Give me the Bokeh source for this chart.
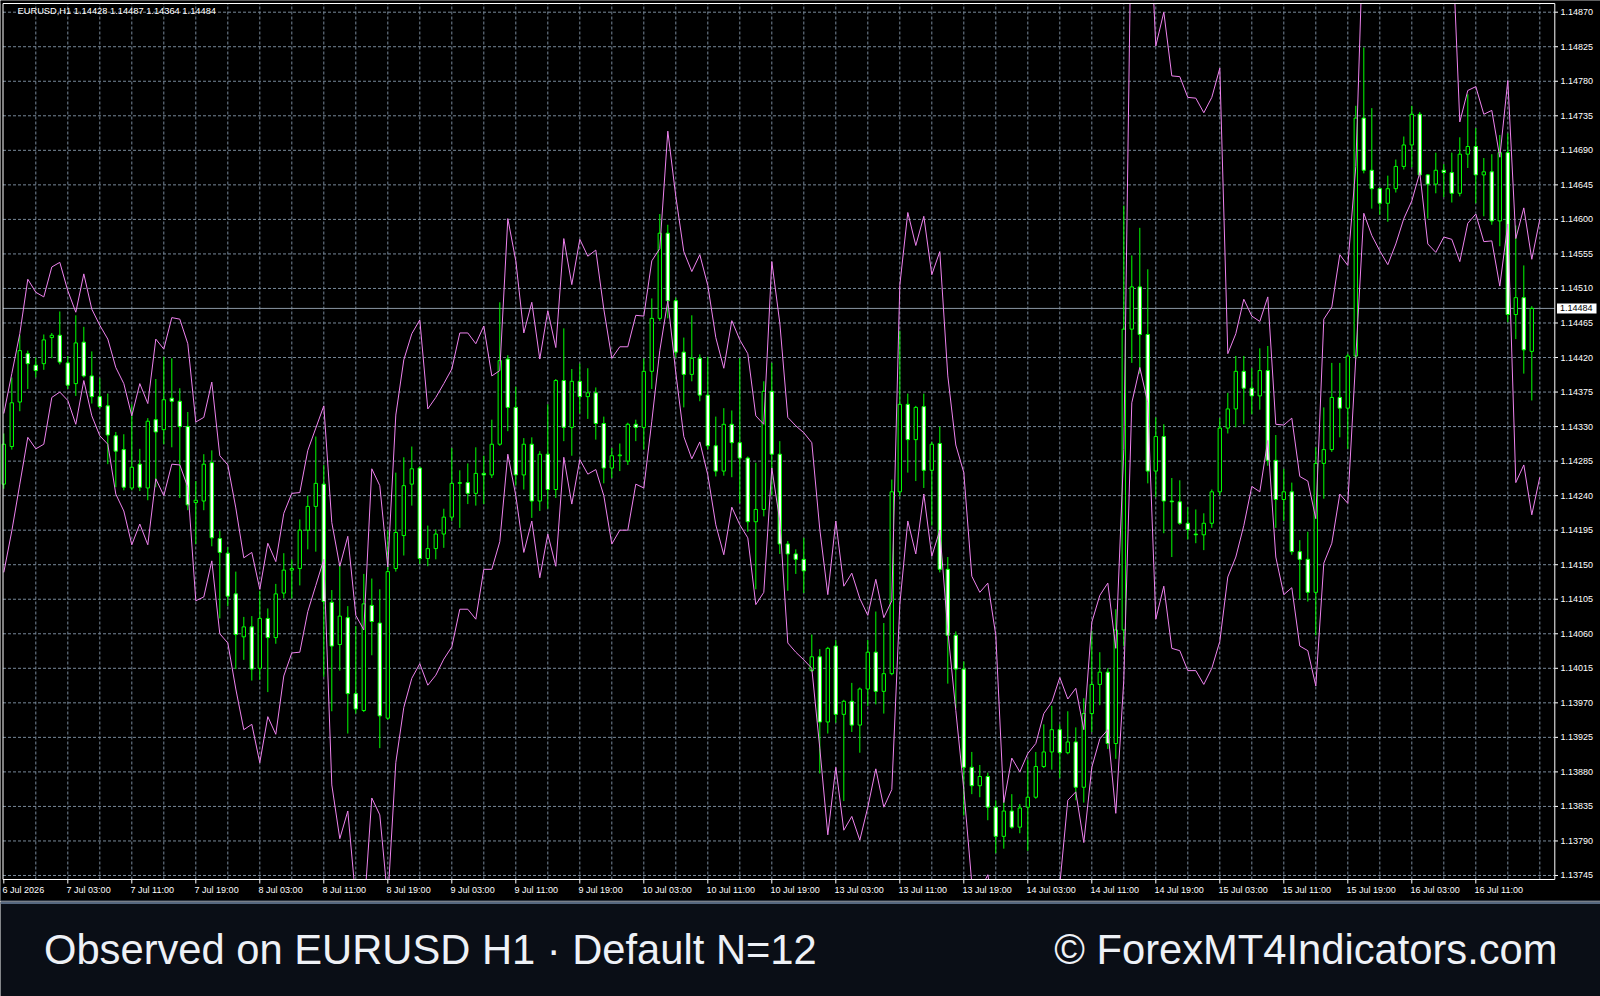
from bokeh.plotting import figure
from bokeh.models import Range1d, ColumnDataSource
from bokeh.layouts import column
from bokeh.embed import file_html
from bokeh.resources import INLINE
from bokeh.core.properties import value

SYMBOL = "EURUSD"
TIMEFRAME = "H1"
FOOTER_LEFT = "Observed on EURUSD H1 \u00b7 Default N=12"
FOOTER_RIGHT = "\u00a9 ForexMT4Indicators.com"

open_ = [
1.14255,1.14304,1.14362,1.14425,1.14410,1.14412,1.14446,1.14449,1.14413,1.14386,
1.14440,1.14396,1.14369,1.14357,1.14318,1.14300,1.14250,1.14281,1.14250,1.14339,
1.14326,1.14367,1.14363,1.14330,1.14231,1.14233,1.14283,1.14184,1.14165,1.14112,
1.14056,1.14069,1.14015,1.14080,1.14055,1.14113,1.14143,1.14145,1.14195,1.14226,
1.14255,1.14101,1.14046,1.14081,1.13982,1.13960,1.14097,1.14074,1.13950,1.14145,
1.14188,1.14255,1.14276,1.14158,1.14171,1.14190,1.14212,1.14256,1.14257,1.14243,
1.14269,1.14267,1.14307,1.14418,1.14355,1.14267,1.14307,1.14233,1.14294,1.14248,
1.14390,1.14329,1.14389,1.14369,1.14374,1.14334,1.14276,1.14292,1.14285,1.14333,
1.14329,1.14402,1.14471,1.14582,1.14494,1.14427,1.14398,1.14419,1.14371,1.14305,
1.14272,1.14333,1.14309,1.14289,1.14206,1.14222,1.14376,1.14294,1.14177,1.14164,
1.14157,1.14012,1.14030,1.13945,1.14044,1.13955,1.13972,1.13941,1.13988,1.14036,
1.13985,1.14008,1.14245,1.14359,1.14313,1.14356,1.14273,1.14308,1.14144,1.14058,
1.14014,1.13886,1.13862,1.13874,1.13834,1.13796,1.13829,1.13808,1.13834,1.13847,
1.13887,1.13906,1.13935,1.13905,1.13919,1.13860,1.13956,1.13994,1.14010,1.13917,
1.14065,1.14457,1.14512,1.14450,1.14272,1.14317,1.14233,1.14232,1.14204,1.14190,
1.14189,1.14204,1.14245,1.14328,1.14353,1.14402,1.14380,1.14370,1.14403,1.14286,
1.14235,1.14245,1.14167,1.14157,1.14114,1.14282,1.14300,1.14368,1.14354,1.14422,
1.14732,1.14664,1.14640,1.14621,1.14640,1.14669,1.14697,1.14737,1.14658,1.14646,
1.14664,1.14661,1.14634,1.14685,1.14695,1.14658,1.14662,1.14598,1.14687,1.14476,
1.14498,1.14428]

high = [
1.14321,1.14394,1.14449,1.14429,1.14420,1.14450,1.14452,1.14480,1.14422,1.14475,
1.14460,1.14428,1.14393,1.14373,1.14323,1.14320,1.14359,1.14301,1.14341,1.14392,
1.14421,1.14419,1.14380,1.14349,1.14259,1.14294,1.14299,1.14194,1.14173,1.14141,
1.14082,1.14083,1.14116,1.14093,1.14125,1.14165,1.14157,1.14209,1.14240,1.14317,
1.14280,1.14117,1.14151,1.14096,1.14070,1.14138,1.14132,1.14118,1.14195,1.14270,
1.14290,1.14304,1.14278,1.14201,1.14196,1.14223,1.14302,1.14273,1.14282,1.14303,
1.14292,1.14339,1.14492,1.14423,1.14382,1.14315,1.14316,1.14298,1.14359,1.14392,
1.14458,1.14405,1.14412,1.14406,1.14381,1.14343,1.14302,1.14308,1.14335,1.14339,
1.14419,1.14497,1.14607,1.14593,1.14498,1.14446,1.14475,1.14424,1.14421,1.14343,
1.14354,1.14351,1.14419,1.14291,1.14283,1.14389,1.14413,1.14311,1.14181,1.14170,
1.14185,1.14059,1.14040,1.14043,1.14052,1.13974,1.13996,1.13990,1.14052,1.14089,
1.14074,1.14261,1.14455,1.14373,1.14357,1.14373,1.14310,1.14330,1.14160,1.14063,
1.14024,1.13906,1.13889,1.13879,1.13843,1.13843,1.13851,1.13838,1.13896,1.13906,
1.13942,1.13966,1.13942,1.13959,1.13938,1.13976,1.14064,1.14036,1.14015,1.14092,
1.14618,1.14553,1.14589,1.14535,1.14342,1.14333,1.14263,1.14260,1.14225,1.14222,
1.14217,1.14248,1.14341,1.14374,1.14422,1.14422,1.14406,1.14432,1.14435,1.14319,
1.14275,1.14257,1.14182,1.14193,1.14303,1.14355,1.14413,1.14413,1.14425,1.14748,
1.14824,1.14745,1.14641,1.14657,1.14678,1.14708,1.14748,1.14740,1.14659,1.14687,
1.14672,1.14687,1.14707,1.14763,1.14719,1.14680,1.14685,1.14710,1.14712,1.14592,
1.14540,1.14487]

low = [
1.14249,1.14300,1.14350,1.14379,1.14394,1.14404,1.14419,1.14411,1.14379,1.14370,
1.14394,1.14360,1.14354,1.14281,1.14251,1.14247,1.14247,1.14246,1.14234,1.14251,
1.14307,1.14303,1.14237,1.14221,1.14177,1.14221,1.14174,1.14080,1.14096,1.14014,
1.14026,1.13999,1.14000,1.13984,1.14047,1.14106,1.14106,1.14123,1.14170,1.14167,
1.14004,1.13959,1.14012,1.13930,1.13956,1.13958,1.14032,1.13911,1.13948,1.14141,
1.14162,1.14227,1.14151,1.14148,1.14157,1.14172,1.14207,1.14198,1.14229,1.14227,
1.14229,1.14263,1.14305,1.14324,1.14253,1.14248,1.14211,1.14220,1.14223,1.14237,
1.14311,1.14292,1.14347,1.14340,1.14313,1.14256,1.14263,1.14272,1.14280,1.14311,
1.14300,1.14379,1.14468,1.14471,1.14420,1.14355,1.14389,1.14363,1.14300,1.14265,
1.14266,1.14264,1.14230,1.14193,1.14118,1.14213,1.14240,1.14164,1.14116,1.14138,
1.14113,1.14010,1.13878,1.13930,1.13944,1.13842,1.13932,1.13905,1.13966,1.13968,
1.13956,1.14006,1.14239,1.14270,1.14259,1.14250,1.14201,1.14140,1.13995,1.13963,
1.13823,1.13851,1.13847,1.13817,1.13774,1.13780,1.13806,1.13800,1.13777,1.13845,
1.13885,1.13883,1.13872,1.13903,1.13843,1.13840,1.13932,1.13967,1.13910,1.13897,
1.14044,1.14413,1.14399,1.14256,1.14238,1.14191,1.14160,1.14202,1.14183,1.14178,
1.14169,1.14198,1.14240,1.14321,1.14329,1.14333,1.14346,1.14352,1.14279,1.14198,
1.14207,1.14163,1.14105,1.14102,1.14058,1.14236,1.14297,1.14316,1.14301,1.14418,
1.14660,1.14614,1.14606,1.14597,1.14635,1.14665,1.14668,1.14656,1.14601,1.14634,
1.14629,1.14622,1.14630,1.14667,1.14621,1.14604,1.14593,1.14565,1.14466,1.14444,
1.14399,1.14364]

close = [
1.14307,1.14361,1.14429,1.14412,1.14403,1.14443,1.14449,1.14414,1.14384,1.14439,
1.14396,1.14369,1.14356,1.14319,1.14298,1.14251,1.14277,1.14251,1.14337,1.14323,
1.14365,1.14363,1.14330,1.14228,1.14234,1.14281,1.14185,1.14166,1.14109,1.14059,
1.14069,1.14014,1.14080,1.14055,1.14112,1.14143,1.14145,1.14195,1.14226,1.14256,
1.14102,1.14044,1.14083,1.13982,1.13962,1.14099,1.14076,1.13953,1.14141,1.14192,
1.14253,1.14275,1.14158,1.14171,1.14190,1.14212,1.14256,1.14257,1.14243,1.14269,
1.14267,1.14307,1.14416,1.14355,1.14267,1.14307,1.14233,1.14294,1.14248,1.14390,
1.14329,1.14389,1.14369,1.14374,1.14334,1.14276,1.14292,1.14293,1.14333,1.14329,
1.14402,1.14471,1.14582,1.14494,1.14427,1.14398,1.14419,1.14371,1.14305,1.14272,
1.14333,1.14309,1.14289,1.14206,1.14222,1.14376,1.14294,1.14177,1.14164,1.14157,
1.14142,1.14030,1.13945,1.14041,1.13955,1.13972,1.13941,1.13988,1.14036,1.13985,
1.14008,1.14245,1.14359,1.14313,1.14355,1.14273,1.14307,1.14144,1.14058,1.14014,
1.13886,1.13862,1.13874,1.13834,1.13796,1.13829,1.13808,1.13833,1.13847,1.13887,
1.13906,1.13935,1.13905,1.13919,1.13860,1.13956,1.13994,1.14010,1.13917,1.14065,
1.14457,1.14512,1.14450,1.14272,1.14317,1.14233,1.14232,1.14204,1.14196,1.14189,
1.14204,1.14245,1.14328,1.14353,1.14402,1.14380,1.14370,1.14403,1.14286,1.14235,
1.14245,1.14167,1.14157,1.14114,1.14282,1.14300,1.14368,1.14354,1.14422,1.14732,
1.14664,1.14640,1.14621,1.14640,1.14669,1.14697,1.14737,1.14658,1.14646,1.14664,
1.14661,1.14634,1.14685,1.14695,1.14658,1.14662,1.14598,1.14687,1.14476,1.14498,
1.14430,1.14484]

upper_band = [
1.14347,1.14399,1.14451,1.14522,1.14505,1.14499,1.14538,1.14544,1.14507,1.14479,
1.14529,1.14483,1.14462,1.14444,1.14407,1.14386,1.14344,1.14386,1.14360,1.14444,
1.14431,1.14472,1.14470,1.14438,1.14336,1.14342,1.14388,1.14292,1.14280,1.14224,
1.14159,1.14166,1.14118,1.14178,1.14154,1.14217,1.14243,1.14244,1.14299,1.14328,
1.14357,1.14205,1.14148,1.14187,1.14084,1.14065,1.14275,1.14253,1.14147,1.14345,
1.14417,1.14451,1.14469,1.14353,1.14368,1.14386,1.14405,1.14452,1.14452,1.14438,
1.14461,1.14396,1.14403,1.14601,1.14546,1.14452,1.14492,1.14418,1.14481,1.14433,
1.14575,1.14515,1.14574,1.14552,1.14560,1.14483,1.14419,1.14434,1.14434,1.14475,
1.14474,1.14546,1.14562,1.14715,1.14630,1.14558,1.14532,1.14554,1.14514,1.14446,
1.14406,1.14468,1.14443,1.14425,1.14344,1.14333,1.14545,1.14465,1.14342,1.14331,
1.14322,1.14309,1.14196,1.14111,1.14207,1.14122,1.14139,1.14106,1.14084,1.14131,
1.14081,1.14103,1.14514,1.14609,1.14566,1.14604,1.14528,1.14558,1.14396,1.14306,
1.14270,1.14135,1.14114,1.14126,1.14058,1.13840,1.13898,1.13880,1.13904,1.13917,
1.13956,1.13971,1.14003,1.13975,1.13989,1.13935,1.14075,1.14110,1.14126,1.14041,
1.14300,1.15050,1.15120,1.15050,1.14826,1.14870,1.14787,1.14786,1.14759,1.14758,
1.14739,1.14759,1.14797,1.14425,1.14451,1.14496,1.14474,1.14467,1.14499,1.14333,
1.14332,1.14341,1.14265,1.14259,1.14210,1.14470,1.14486,1.14554,1.14540,1.14669,
1.15000,1.14980,1.14960,1.14940,1.14970,1.15000,1.15020,1.15060,1.14970,1.14960,
1.14975,1.14980,1.14727,1.14768,1.14773,1.14737,1.14742,1.14681,1.14781,1.14575,
1.14615,1.14548,1.14600]

lower_band = [
1.14140,1.14194,1.14255,1.14316,1.14301,1.14307,1.14368,1.14375,1.14364,1.14333,
1.14390,1.14344,1.14318,1.14307,1.14242,1.14220,1.14176,1.14203,1.14176,1.14262,
1.14240,1.14281,1.14280,1.14251,1.14103,1.14108,1.14155,1.14060,1.14048,1.13988,
1.13935,1.13942,1.13892,1.13952,1.13929,1.14005,1.14035,1.14036,1.14089,1.14123,
1.14157,1.13863,1.13793,1.13829,1.13713,1.13694,1.13846,1.13824,1.13713,1.13892,
1.13964,1.14002,1.14021,1.13993,1.14006,1.14027,1.14043,1.14092,1.14092,1.14079,
1.14144,1.14144,1.14180,1.14294,1.14240,1.14166,1.14207,1.14133,1.14190,1.14148,
1.14290,1.14229,1.14287,1.14268,1.14274,1.14240,1.14177,1.14195,1.14195,1.14255,
1.14250,1.14337,1.14429,1.14494,1.14400,1.14317,1.14288,1.14310,1.14267,1.14202,
1.14163,1.14225,1.14202,1.14185,1.14098,1.14114,1.14276,1.14207,1.14048,1.14036,
1.14026,1.14015,1.13911,1.13798,1.13886,1.13804,1.13822,1.13791,1.13834,1.13884,
1.13834,1.13857,1.14098,1.14207,1.14164,1.14242,1.14161,1.14195,1.14064,1.13960,
1.13857,1.13735,1.13724,1.13746,1.13688,1.13480,1.13548,1.13540,1.13574,1.13597,
1.13656,1.13691,1.13733,1.13843,1.13854,1.13788,1.13886,1.13923,1.13935,1.13826,
1.14000,1.14361,1.14407,1.14361,1.14079,1.14122,1.14041,1.14038,1.14012,1.14012,
1.13994,1.14015,1.14050,1.14134,1.14160,1.14201,1.14252,1.14245,1.14312,1.14160,
1.14111,1.14120,1.14044,1.14038,1.13992,1.14152,1.14178,1.14242,1.14230,1.14420,
1.14608,1.14579,1.14559,1.14541,1.14568,1.14601,1.14624,1.14661,1.14568,1.14557,
1.14577,1.14574,1.14545,1.14595,1.14607,1.14571,1.14572,1.14513,1.14594,1.14257,
1.14280,1.14215,1.14264]

time_labels = ["6 Jul 2026", "7 Jul 03:00", "7 Jul 11:00", "7 Jul 19:00", "8 Jul 03:00",
               "8 Jul 11:00", "8 Jul 19:00", "9 Jul 03:00", "9 Jul 11:00", "9 Jul 19:00",
               "10 Jul 03:00", "10 Jul 11:00", "10 Jul 19:00", "13 Jul 03:00", "13 Jul 11:00",
               "13 Jul 19:00", "14 Jul 03:00", "14 Jul 11:00", "14 Jul 19:00", "15 Jul 03:00",
               "15 Jul 11:00", "15 Jul 19:00", "16 Jul 03:00", "16 Jul 11:00"]
time_label_bars = [0, 8, 16, 24, 32, 40, 48, 56, 64, 72, 80, 88, 96, 104, 112, 120,
                   128, 136, 144, 152, 160, 168, 176, 184]
price_ticks = [1.13745, 1.13790, 1.13835, 1.13880, 1.13925, 1.13970, 1.14015, 1.14060,
               1.14105, 1.14150, 1.14195, 1.14240, 1.14285, 1.14330, 1.14375, 1.14420,
               1.14465, 1.14510, 1.14555, 1.14600, 1.14645, 1.14690, 1.14735, 1.14780,
               1.14825, 1.14870]
grid_bars = list(range(4, 193, 4))

# ---------------- layout helpers (reference pixel -> data units) ----------------
W = 1600
CH = 901
FH = 95
PPX = 1.30314e-5


def bx(xr):
    return (xr - 3.3) / 8.0


def py(yr):
    return 1.14870 - (yr - 11.7) * PPX


FL, FR = bx(2.5), bx(1554.3)
PT, PB = py(3.0), py(879.0)

GRID_C = "#778899"
CANDLE_C = "#00ff00"
BAND_C = "#ee82ee"
FONT = value("Liberation Sans")

n = min(len(open_), len(high), len(low), len(close))
bars = list(range(n))
src = ColumnDataSource(dict(
    x=bars, o=open_[:n], h=high[:n], l=low[:n], c=close[:n],
    top=[max(a, b) for a, b in zip(open_[:n], close[:n])],
    bot=[min(a, b) for a, b in zip(open_[:n], close[:n])],
    fill=["black" if c >= o else "white" for o, c in zip(open_[:n], close[:n])],
))

p = figure(width=W, height=CH, x_range=Range1d(bx(0), bx(1600)), y_range=Range1d(py(901), py(0)),
           output_backend="svg", toolbar_location=None, min_border=0,
           x_axis_location=None, y_axis_location=None,
           background_fill_color="black", border_fill_color="black", outline_line_color=None)
p.xgrid.visible = False
p.ygrid.visible = False

# grid
p.segment(x0=[FL] * len(price_ticks), y0=price_ticks, x1=[FR] * len(price_ticks), y1=price_ticks,
          line_color=GRID_C, line_dash="3 2", line_width=1)
p.segment(x0=grid_bars, y0=[PB] * len(grid_bars), x1=grid_bars, y1=[PT] * len(grid_bars),
          line_color=GRID_C, line_dash="3 2", line_width=1)

# bid line
bid = close[n - 1]
p.segment(x0=[FL], y0=[bid], x1=[FR], y1=[bid], line_color="#8a96a3", line_width=1)

# candles
p.segment(x0="x", y0="l", x1="x", y1="h", source=src, line_color=CANDLE_C, line_width=1)
p.vbar(x="x", width=0.42, top="top", bottom="bot", source=src,
       fill_color="fill", line_color=CANDLE_C, line_width=1)

# bands
p.line(list(range(len(upper_band))), upper_band, line_color=BAND_C, line_width=1)
p.line(list(range(len(lower_band))), lower_band, line_color=BAND_C, line_width=1)

# masks outside the chart frame
p.quad(left=[bx(0), bx(0), FR], right=[bx(1600), bx(1600), bx(1600)],
       top=[PB, py(0), PT], bottom=[py(901), PT, PB], fill_color="black", line_color=None)

# frame
p.quad(left=[FL], right=[FR], top=[PT], bottom=[PB], fill_color=None, line_color="white", line_width=1)

# ticks
p.segment(x0=[FR] * len(price_ticks), y0=price_ticks, x1=[bx(1557.5)] * len(price_ticks), y1=price_ticks,
          line_color="white", line_width=1)
p.segment(x0=time_label_bars, y0=[PB] * len(time_label_bars), x1=time_label_bars,
          y1=[py(883)] * len(time_label_bars), line_color="white", line_width=1)

# price labels
p.text(x=[bx(1560)] * len(price_ticks), y=price_ticks, text=[f"{t:.5f}" for t in price_ticks],
       text_color="white", text_font=FONT, text_font_size="9px",
       text_baseline="middle", text_align="left")

# bid label box
p.quad(left=[bx(1556.5)], right=[bx(1596)], top=[bid + 5 * PPX], bottom=[bid - 5 * PPX],
       fill_color="white", line_color=None)
p.text(x=[bx(1559.5)], y=[bid], text=[f"{bid:.5f}"], text_color="black", text_font=FONT,
       text_font_size="9px", text_baseline="middle", text_align="left")

# time labels
p.text(x=[b - 0.15 for b in time_label_bars], y=[py(889)] * len(time_label_bars), text=time_labels,
       text_color="white", text_font=FONT, text_font_size="9px",
       text_baseline="middle", text_align="left")

# title
title = f"{SYMBOL},{TIMEFRAME}  {open_[n-1]:.5f} {high[n-1]:.5f} {low[n-1]:.5f} {close[n-1]:.5f}"
p.text(x=[bx(17)], y=[py(10.5)], text=[title], text_color="white", text_font=FONT,
       text_font_size="9.3px", text_baseline="middle", text_align="left")

# separator top part
p.quad(left=[bx(0)], right=[bx(1600)], top=[py(900)], bottom=[py(901)], fill_color="#56677f", line_color=None)

# ---------------- footer ----------------
f = figure(width=W, height=FH, x_range=Range1d(0, 1600), y_range=Range1d(996, 901),
           output_backend="svg", toolbar_location=None, min_border=0,
           x_axis_location=None, y_axis_location=None,
           background_fill_color="#0a0e16", border_fill_color="#0a0e16", outline_line_color=None)
f.xgrid.visible = False
f.ygrid.visible = False
f.quad(left=[0], right=[1600], top=[901], bottom=[903.4], fill_color="#56677f", line_color=None)
f.text(x=[43.5], y=[948.5], text=[FOOTER_LEFT], text_color="#eef1f6", text_font=FONT,
       text_font_size="41.7px", text_baseline="alphabetic", text_align="left")
f.text(x=[1557], y=[948.5], text=[FOOTER_RIGHT], text_color="#eef1f6", text_font=FONT,
       text_font_size="41.7px", text_baseline="alphabetic", text_align="right")

layout = column(p, f, spacing=0)
open("out.html", "w").write(file_html(layout, INLINE))
